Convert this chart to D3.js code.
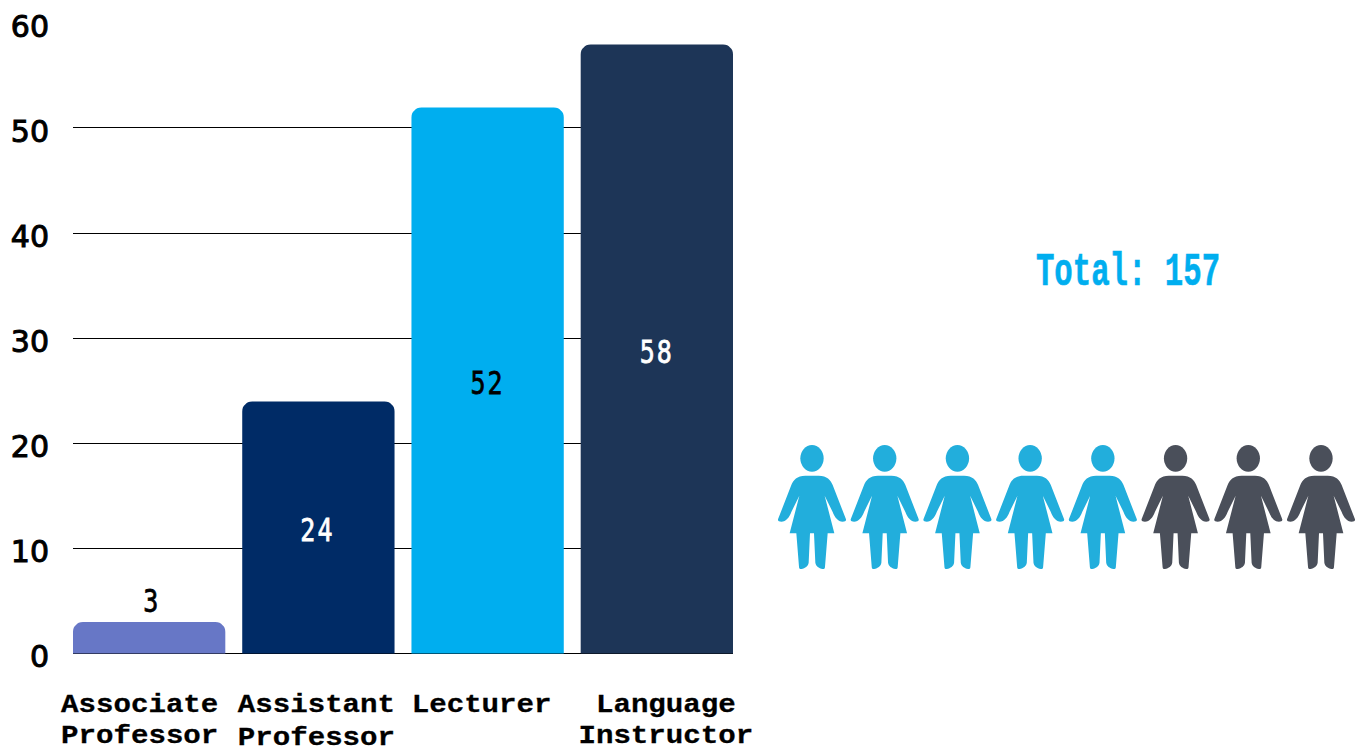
<!DOCTYPE html>
<html><head><meta charset="utf-8">
<script src="https://cdn.jsdelivr.net/npm/d3@7/dist/d3.min.js"></script>
<style>html,body{margin:0;padding:0;background:#fff}svg{display:block}</style>
</head><body><svg id="c" width="1360" height="747"></svg>
<script>
const categories=[["Associate","Professor"],["Assistant","Professor"],["Lecturer"],["Language","Instructor"]];
const values=[3,24,52,58];
const barColors=["#6777C6","#002B66","#00AEEF","#1D3557"];
const labelColors=["#000","#fff","#000","#fff"];
const yTicks=[0,10,20,30,40,50,60];
const gridTicks=[0,10,20,30,40,50];
const totalLabel="Total: 157";
const people=[1,1,1,1,1,0,0,0];

const svg=d3.select("#c");
const x=d3.scaleBand().domain(d3.range(values.length)).range([73,733]).paddingInner(0.1).paddingOuter(0);
const y=d3.scaleLinear().domain([0,60]).range([653.5,23.5]);

svg.append("g").selectAll("line").data(gridTicks).join("line")
 .attr("x1",73).attr("x2",733).attr("y1",d=>Math.round(y(d))-.5).attr("y2",d=>Math.round(y(d))-.5)
 .attr("stroke","#000").attr("stroke-width",1);

const r=10;
svg.append("g").selectAll("path").data(values).join("path")
 .attr("fill",(d,i)=>barColors[i])
 .attr("d",(d,i)=>{const a=x(i),b=a+x.bandwidth(),t=y(d),z=y(0);
  return `M${a},${z}V${t+r}Q${a},${t+5} ${a+3},${t+3}Q${a+5},${t} ${a+r},${t}H${b-r}Q${b-5},${t} ${b-3},${t+3}Q${b},${t+5} ${b},${t+r}V${z}Z`;});

const ya=svg.append("g").attr("transform","translate(49,0)").call(d3.axisLeft(y).tickValues(yTicks).tickSize(0).tickPadding(0));
ya.select(".domain").remove();
ya.selectAll("text").attr("dy",null).attr("y",12.5).attr("font-family","'DejaVu Sans'").attr("font-size",30).attr("fill","#000").attr("stroke","#000").attr("stroke-width",1);

const xa=svg.append("g").call(d3.axisBottom(x).tickSize(0).tickFormat(""));
xa.select(".domain").remove();
xa.selectAll("text").remove();
const lg=svg.append("g");
const lblOffset=[-9.5,-2,-6,9];
categories.forEach((c,i)=>{
 const cx=x(i)+x.bandwidth()/2+lblOffset[i];
 const t=lg.append("text").attr("text-anchor","middle").attr("font-family","'Liberation Mono'").attr("font-weight","bold").attr("font-size",26.5).attr("fill","#000").attr("stroke","#000").attr("stroke-width",0.3)
  .attr("transform",`translate(${cx},0) scale(1.1,1)`);
 c.forEach((s,j)=>t.append("tspan").attr("x",0).attr("y",712+j*31.5+(i==1?j*1.5:0)).text(s));
});

svg.append("g").selectAll("text").data(values).join("text")
 .attr("text-anchor","middle").attr("font-family","'DejaVu Sans Mono'").attr("font-size",25).attr("letter-spacing",2)
 .attr("fill",(d,i)=>labelColors[i]).attr("stroke",(d,i)=>labelColors[i]).attr("stroke-width",0.6)
 .attr("transform",(d,i)=>{const cx=x(i)+x.bandwidth()/2+[2.5,-1,0,0][i];const cy=d<10?y(d)-10:(y(d)+y(0))/2+13.5;return `translate(${cx},${cy}) scale(1,1.3)`;})
 .text(d=>d);

svg.append("text").attr("text-anchor","middle").attr("fill","#00AEEF")
 .attr("font-family","'Liberation Mono'").attr("font-weight","bold").attr("font-size",31).attr("stroke","#00AEEF").attr("stroke-width",0.4)
 .attr("transform","translate(1128,284.5) scale(0.99,1.5)").text(totalLabel);

const px=d3.scalePoint().domain(d3.range(people.length)).range([812,1321]);
const bodyPath="M0,137 H20 C45,137 56,150 62,165 L102,268 C103,274 98,275 92,275 C78,275 68,262 62,246 L38,197 L67,310 H47 L39,410 C39,416 36,417 32,417 C20,414 12,409 10,398 L6,310 H-6 L-10,398 C-12,409 -20,414 -32,417 C-36,417 -39,416 -39,410 L-47,310 H-67 L-38,197 L-62,246 C-68,262 -78,275 -92,275 C-98,275 -103,274 -102,268 L-62,165 C-56,150 -45,137 -20,137 Z";
const pg=svg.append("g").selectAll("g").data(people).join("g")
 .attr("transform",(d,i)=>`translate(${px(i)},430) scale(${1/3})`)
 .attr("fill",d=>d?"#22AEDC":"#4A4F5A");
pg.append("ellipse").attr("cx",0).attr("cy",85).attr("rx",35).attr("ry",40);
pg.append("path").attr("d",bodyPath);
</script></body></html>
